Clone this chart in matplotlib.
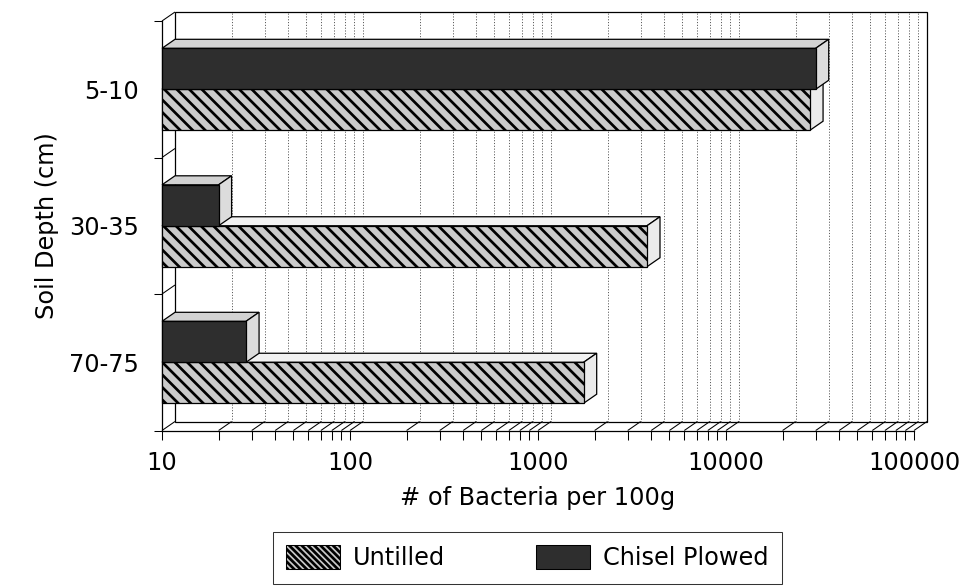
import numpy as np
import matplotlib
matplotlib.use("Agg")
import matplotlib.pyplot as plt
from matplotlib.patches import Polygon, Patch, Rectangle
from matplotlib.collections import LineCollection
from matplotlib.ticker import LogLocator, NullFormatter
from matplotlib.transforms import IdentityTransform, offset_copy

# data
depths = ["5-10", "30-35", "70-75"]
untilled = [28000, 3800, 1750]
chisel = [30000, 20, 28]
x_ticks = [10, 100, 1000, 10000, 100000]
x_tick_labels = ["10", "100", "1000", "10000", "100000"]

DPI = 75
DX, DY = 13, 9        # depth of the fake 3d box, pixels
BAR_H = 0.30
UNTILLED_FC = "#cacaca"
CHISEL_FC = "#2e2e2e"

plt.rcParams["font.family"] = "DejaVu Sans"
plt.rcParams["hatch.linewidth"] = 2.6

fig = plt.figure(figsize=(973 / DPI, 586 / DPI), dpi=DPI)
ax = fig.add_axes([162 / 973, 155.5 / 586, 752 / 973, 409.5 / 586])
ax.set_xscale("log")
ax.set_xlim(10, 100000)
ax.set_ylim(-0.5, 2.5)
ax.autoscale(False)

back = offset_copy(ax.transData, fig=fig, x=DX, y=DY, units="dots")


def px(x, y):
    return ax.transData.transform((x, y))


def face(pts, fc, z):
    ax.add_patch(Polygon(pts, closed=True, transform=IdentityTransform(),
                         facecolor=fc, edgecolor="black", lw=1.2,
                         clip_on=False, zorder=z))


# back wall + dotted grid
ax.add_patch(Rectangle((10, -0.5), 100000 - 10, 3, transform=back,
                       facecolor="white", edgecolor="black", lw=1.2,
                       clip_on=False, zorder=0.5))
grid_vals = [k * d for d in [10, 100, 1000, 10000] for k in range(1, 10)][1:]
ax.vlines(grid_vals, -0.5, 2.5, transform=back, colors="#555555",
          linestyles=(0, (1.2, 1.8)), lw=0.9, clip_on=False, zorder=0.6)

# floor lines and left side wall lines
segs = []
for v in grid_vals + [10, 100000]:
    p = px(v, -0.5)
    segs.append([p, p + (DX, DY)])
for y in [0.5, 1.5, 2.5]:
    p = px(10, y)
    segs.append([p, p + (DX, DY)])
ax.add_collection(LineCollection(segs, colors="black", lw=1.0,
                                 transform=IdentityTransform(),
                                 clip_on=False, zorder=0.7))


def bar3d(v, y0, fc, top_fc, side_fc, hatch, z):
    ax.barh(y0 + BAR_H / 2, v - 10, left=10, height=BAR_H, facecolor=fc,
            edgecolor="black", lw=1.2, hatch=hatch, zorder=z + 0.2,
            clip_on=False)
    x0, yb = px(10, y0)
    x1, yt = px(v, y0 + BAR_H)
    face([(x0, yt), (x1, yt), (x1 + DX, yt + DY), (x0 + DX, yt + DY)], top_fc, z)
    face([(x1, yb), (x1, yt), (x1 + DX, yt + DY), (x1 + DX, yb + DY)], side_fc, z)


ypos = np.arange(len(depths))[::-1]
for i, c in enumerate(ypos):
    bar3d(untilled[i], c - BAR_H, UNTILLED_FC, "#f2f2f2", "#ebebeb", "\\\\", 2 + i)
    bar3d(chisel[i], c, CHISEL_FC, "#d2d2d2", "#dcdcdc", None, 2.5 + i)

# axes
for s in ["top", "right"]:
    ax.spines[s].set_visible(False)
for s in ["left", "bottom"]:
    ax.spines[s].set_linewidth(1.2)
    ax.spines[s].set_zorder(1)

ax.set_xticks(x_ticks, x_tick_labels)
ax.xaxis.set_minor_locator(LogLocator(base=10, subs=range(2, 10)))
ax.xaxis.set_minor_formatter(NullFormatter())
ax.tick_params(axis="x", which="both", direction="out", length=9, width=1,
               labelsize=23, pad=11)

ax.set_yticks(ypos, depths)
ax.set_yticks([-0.5, 0.5, 1.5, 2.5], minor=True)
ax.tick_params(axis="y", which="major", length=0, labelsize=23, pad=22)
ax.tick_params(axis="y", which="minor", direction="out", length=8, width=1)

ax.set_xlabel("# of Bacteria per 100g", fontsize=23, labelpad=10)
ax.set_ylabel("Soil Depth (cm)", fontsize=23, labelpad=10)

handles = [Patch(facecolor=UNTILLED_FC, edgecolor="black", hatch="\\\\\\\\", lw=1),
           Patch(facecolor=CHISEL_FC, edgecolor="black", lw=1)]
leg = fig.legend(handles, ["Untilled", "Chisel Plowed"], ncol=2,
                 loc="upper left", bbox_to_anchor=(273 / 973, 1 - 532 / 586),
                 bbox_transform=fig.transFigure, borderaxespad=0,
                 fontsize=23, frameon=True, fancybox=False,
                 handlelength=2.25, handleheight=1.17, handletextpad=0.54,
                 columnspacing=3.8, borderpad=0.55)
leg.get_frame().set_edgecolor("black")
leg.get_frame().set_linewidth(1.0)

fig.savefig("out.png", dpi=DPI)
